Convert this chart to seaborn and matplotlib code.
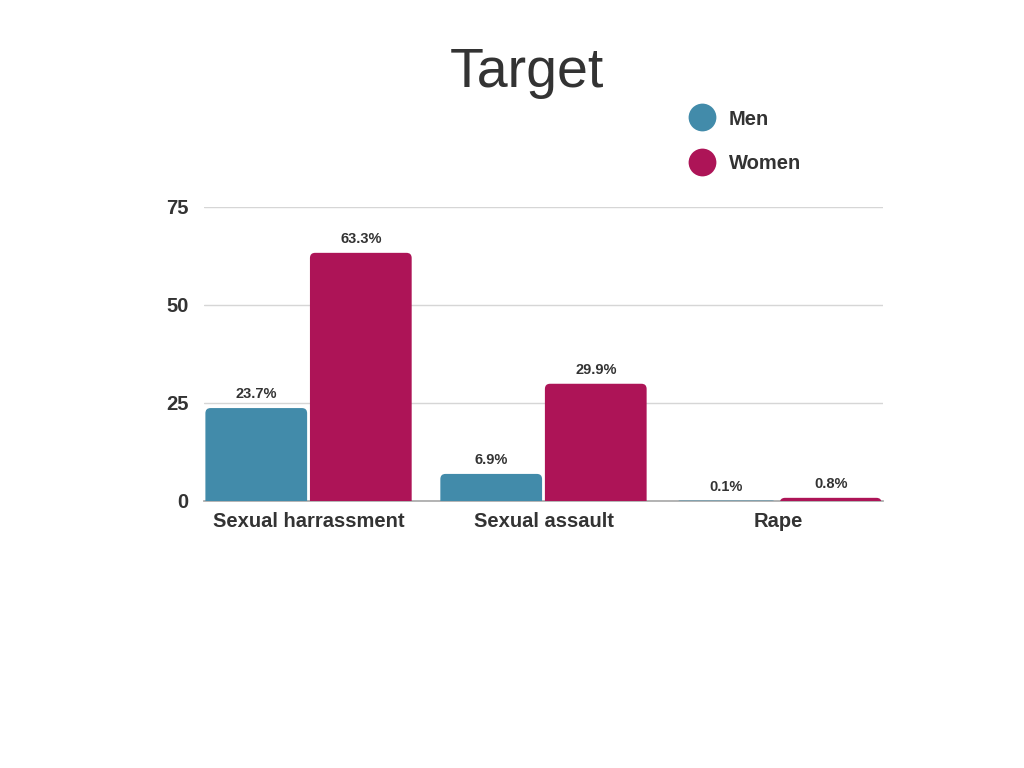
import pandas as pd
import matplotlib.pyplot as plt
import seaborn as sns
from matplotlib.patches import FancyBboxPatch
from matplotlib.lines import Line2D

categories = ['Sexual harrassment', 'Sexual assault', 'Rape']
men = [23.7, 6.9, 0.1]
women = [63.3, 29.9, 0.8]
groups = ['Men', 'Women']
colors = ['#428BAA', '#AD1457']

df = pd.DataFrame({
    'category': categories * 2,
    'value': men + women,
    'group': ['Men'] * len(categories) + ['Women'] * len(categories),
})

sns.set_theme(style='white')
plt.rcParams['font.family'] = ['Liberation Sans', 'DejaVu Sans']

fig = plt.figure(figsize=(10.24, 7.68), dpi=100)
ax = fig.add_axes([0.1992, 0.3477, 0.6631, 0.3828])

sns.barplot(data=df, x='category', y='value', hue='group', palette=colors,
            width=0.89, saturation=1, legend=False, ax=ax)

# swap square bars for rounded ones
bars = list(ax.patches)
for b in bars:
    x, w, h = b.get_x(), b.get_width(), b.get_height()
    fc = b.get_facecolor()
    b.set_visible(False)
    pad = 0.006
    rb = FancyBboxPatch((x + pad, -2.5), w - 2 * pad, h + 2.5,
                        boxstyle='round,pad=0,rounding_size=0.022',
                        mutation_aspect=60, facecolor=fc, edgecolor='none',
                        zorder=3)
    ax.add_patch(rb)

for cont in ax.containers:
    ax.bar_label(cont, fmt='%.1f%%', padding=5, fontsize=10.5,
                 fontweight='bold', color='#333333')

ax.set_ylim(0, 75)
ax.set_xlim(-0.445, 2.445)
ax.set_yticks([0, 25, 50, 75])
ax.yaxis.grid(True, color='#d6d6d6', linewidth=1)
ax.set_axisbelow(True)
for s in ['top', 'right', 'left']:
    ax.spines[s].set_visible(False)
ax.spines['bottom'].set_color('#aaaaaa')
ax.tick_params(axis='y', length=0, pad=11, labelsize=14.5, labelcolor='#333333')
ax.tick_params(axis='x', length=0, pad=8, labelsize=14.5, labelcolor='#333333')
for t in ax.get_xticklabels() + ax.get_yticklabels():
    t.set_fontweight('bold')
ax.set_xlabel('')
ax.set_ylabel('')

fig.text(0.515, 0.905, 'Target', ha='center', va='center', fontsize=40,
         color='#333333')

handles = [Line2D([], [], linestyle='none', marker='o', markersize=20,
                  markerfacecolor=c, markeredgecolor='none') for c in colors]
fig.legend(handles, groups, loc='upper left', bbox_to_anchor=(0.653, 0.881),
           frameon=False, prop={'weight': 'bold', 'size': 14.5},
           labelcolor='#333333', labelspacing=1.25, handletextpad=0.6,
           handlelength=1.5)

fig.savefig('out.png', dpi=100)
